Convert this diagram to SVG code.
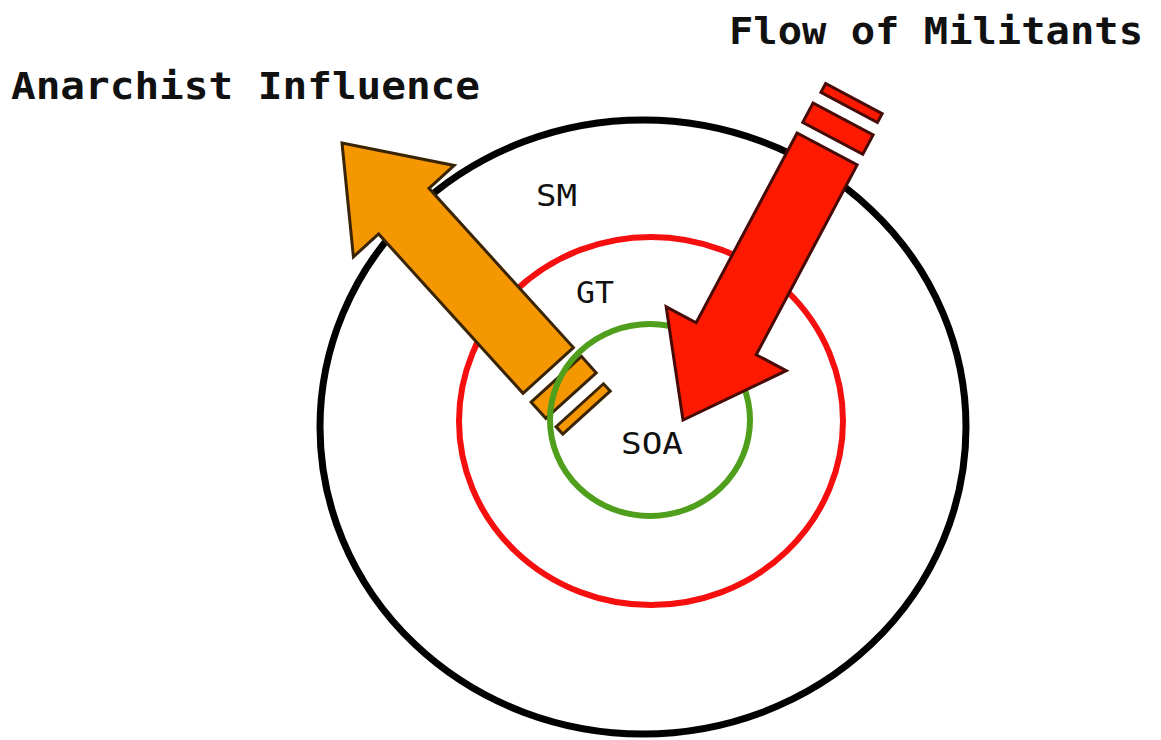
<svg xmlns="http://www.w3.org/2000/svg" width="1161" height="740" viewBox="0 0 1161 740">
<defs>
<style>
.title{font-family:"DejaVu Sans Mono","Liberation Mono",monospace;font-weight:bold;font-size:38px;fill:#111}
.lbl{font-family:"DejaVu Sans Mono","Liberation Mono",monospace;font-size:30px;fill:#111}
.ring{fill:none}
.orange{fill:#f59700;stroke:#3a2406;stroke-width:3;stroke-linejoin:miter}
.red{fill:#fe1a00;stroke:#470a06;stroke-width:3;stroke-linejoin:miter}
</style>
<g id="arrowShape">
<path d="M0,0 L92,-68 L92,-34 L307,-34 L307,34 L92,34 L92,68 Z"/>
<rect x="319" y="-34" width="22" height="68"/>
<rect x="354" y="-32" width="10" height="64"/>
</g>
</defs>
<rect width="1161" height="740" fill="#fff"/>
<g id="ring-SM"><ellipse class="ring" cx="643" cy="427" rx="323" ry="307" stroke="#000" stroke-width="7"/></g>
<g id="ring-GT"><ellipse class="ring" cx="651" cy="421" rx="192" ry="184" stroke="#f50f0f" stroke-width="6"/></g>
<g id="connectors">
<g id="anarchist-influence" class="orange"><use href="#arrowShape" transform="translate(342,143) rotate(47.8)"/></g>
</g>
<g id="ring-SOA"><ellipse class="ring" cx="650" cy="420" rx="100" ry="96" stroke="#4f9e1c" stroke-width="6"/></g>
<g id="connectors-2">
<g id="flow-of-militants" class="red"><use href="#arrowShape" transform="translate(683,420) rotate(-62)"/></g>
</g>
<g id="labels">
<text class="title" x="11" y="99" textLength="469" lengthAdjust="spacingAndGlyphs">Anarchist Influence</text>
<text class="title" x="729" y="44" textLength="414" lengthAdjust="spacingAndGlyphs">Flow of Militants</text>
<text class="lbl" x="536" y="206" textLength="41" lengthAdjust="spacingAndGlyphs">SM</text>
<text class="lbl" x="576" y="303" textLength="38" lengthAdjust="spacingAndGlyphs">GT</text>
<text class="lbl" x="621" y="454" textLength="62" lengthAdjust="spacingAndGlyphs">SOA</text>
</g>
</svg>
